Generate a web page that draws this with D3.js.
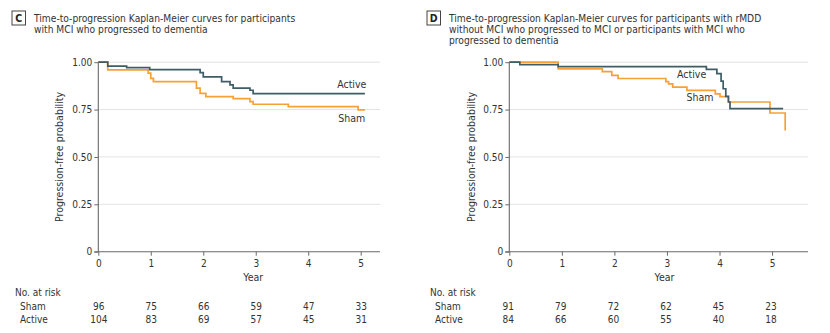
<!DOCTYPE html>
<html>
<head>
<meta charset="utf-8">
<script src="https://cdn.jsdelivr.net/npm/d3@7"></script>
<style>
  html, body { margin: 0; padding: 0; background: #fff; }
  svg { display: block; }
  text { font-family: "Liberation Sans Narrow", "Arial Narrow", "DejaVu Sans Condensed", sans-serif; fill: #333; }
</style>
</head>
<body>
<svg id="chart" width="830" height="333"></svg>
<script>
// Kaplan-Meier step points: [year, progression-free probability]
const activeC = [[0, 1], [0.18, 0.979], [0.54, 0.971], [0.98, 0.961], [1.94, 0.945], [2.0, 0.923],
  [2.35, 0.897], [2.51, 0.88], [2.57, 0.863], [2.89, 0.852], [2.95, 0.834], [5.08, 0.834]];
const shamC = [[0, 1], [0.18, 0.959], [0.95, 0.942], [1.0, 0.915], [1.05, 0.897], [1.87, 0.863],
  [1.94, 0.835], [2.05, 0.818], [2.57, 0.808], [2.89, 0.792], [2.95, 0.778], [3.62, 0.766],
  [4.95, 0.748], [5.08, 0.748]];
const activeD = [[0, 1], [0.2, 0.987], [0.93, 0.977], [3.75, 0.962], [3.95, 0.94], [4.03, 0.9],
  [4.07, 0.86], [4.12, 0.82], [4.17, 0.79], [4.2, 0.755], [5.21, 0.755]];
const shamD = [[0, 1], [0.93, 0.965], [1.77, 0.95], [1.95, 0.93], [2.07, 0.914], [2.98, 0.897],
  [3.03, 0.886], [3.11, 0.868], [3.38, 0.851], [3.92, 0.833], [4.01, 0.818], [4.17, 0.79],
  [4.96, 0.732], [5.25, 0.64]];

// Numbers at risk at years 0..5
const riskYears = [0, 1, 2, 3, 4, 5];
const riskShamC = [96, 75, 66, 59, 47, 33];
const riskActiveC = [104, 83, 69, 57, 45, 31];
const riskShamD = [91, 79, 72, 62, 45, 23];
const riskActiveD = [84, 66, 60, 55, 40, 18];

const yTicks = [0, 0.25, 0.5, 0.75, 1];
const yTickLabels = ["0", "0.25", "0.50", "0.75", "1.00"];
const xTicks = [0, 1, 2, 3, 4, 5];

const titleC = ["Time-to-progression Kaplan-Meier curves for participants",
  "with MCI who progressed to dementia"];
const titleD = ["Time-to-progression Kaplan-Meier curves for participants with rMDD",
  "without MCI who progressed to MCI or participants with MCI who",
  "progressed to dementia"];

const colActive = "#3e5d66";
const colSham = "#f6a136";

const svg = d3.select("#chart");

function panel(opts) {
  const g = svg.append("g");

  // panel letter box and title
  g.append("rect").attr("x", opts.boxX).attr("y", 11).attr("width", 13.5).attr("height", 14)
    .attr("fill", "#fff").attr("stroke", "#444").attr("stroke-width", 1);
  g.append("text").attr("x", opts.boxX + 6.75).attr("y", 22).attr("text-anchor", "middle")
    .attr("font-size", 10.5).attr("font-weight", "bold").style("fill", "#222").text(opts.letter);
  opts.title.forEach((t, i) => {
    g.append("text").attr("x", opts.boxX + 22).attr("y", 21.5 + i * 11)
      .attr("font-size", 10.2).style("fill", "#333").text(t);
  });

  const x = d3.scaleLinear().domain([0, opts.xMax]).range([opts.x0, opts.x1]);
  const y = d3.scaleLinear().domain([0, 1]).range([251.7, 62.2]);

  // gridlines
  g.append("g").selectAll("line").data(yTicks.filter(d => d > 0)).join("line")
    .attr("x1", opts.x0).attr("x2", opts.x1)
    .attr("y1", d => y(d)).attr("y2", d => y(d))
    .attr("stroke", "#e3e3e3").attr("stroke-width", 1);

  // axes
  const yAxis = g.append("g").attr("transform", `translate(${opts.x0},0)`)
    .call(d3.axisLeft(y).tickValues(yTicks).tickFormat((d, i) => yTickLabels[i]).tickSize(4).tickPadding(2));
  const xAxis = g.append("g").attr("transform", `translate(0,${y(0)})`)
    .call(d3.axisBottom(x).tickValues(xTicks).tickFormat(d3.format("d")).tickSize(4).tickPadding(4));
  [yAxis, xAxis].forEach(a => {
    a.select(".domain").attr("stroke", "#6a6a6a").attr("stroke-width", 1.1);
    a.selectAll(".tick line").attr("stroke", "#6a6a6a");
    a.selectAll(".tick text").attr("font-size", 10).style("fill", "#333")
      .attr("font-family", "\"Liberation Sans Narrow\", \"Arial Narrow\", sans-serif");
  });
  yAxis.select(".domain").attr("d", `M-4,${y(0)}H0V${y(1)}`);
  xAxis.select(".domain").attr("d", `M${opts.x0},0H${opts.x1}`);

  // axis titles
  g.append("text").attr("transform", `translate(${opts.yLabelX},${(y(0) + y(1)) / 2}) rotate(-90)`)
    .attr("text-anchor", "middle").attr("font-size", 10.5).text("Progression-free probability");
  g.append("text").attr("x", x(3) - 2.5).attr("y", 280.5).attr("text-anchor", "middle")
    .attr("font-size", 10.5).text("Year");

  // survival curves
  const line = d3.line().x(d => x(d[0])).y(d => y(d[1])).curve(d3.curveStepAfter);
  [[opts.sham, colSham], [opts.active, colActive]].forEach(([data, c]) => {
    g.append("path").datum(data).attr("d", line).attr("fill", "none")
      .attr("stroke", c).attr("stroke-width", 1.7).attr("stroke-linejoin", "miter");
  });

  // curve labels
  g.append("text").attr("x", x(opts.activeLab[0])).attr("y", y(opts.activeLab[1]))
    .attr("text-anchor", "middle").attr("font-size", 10.5).text("Active");
  g.append("text").attr("x", x(opts.shamLab[0])).attr("y", y(opts.shamLab[1]))
    .attr("text-anchor", "middle").attr("font-size", 10.5).text("Sham");

  // numbers at risk table
  g.append("text").attr("x", opts.boxX + 3).attr("y", 296).attr("font-size", 10).text("No. at risk");
  g.append("text").attr("x", opts.boxX + 8).attr("y", 309.5).attr("font-size", 10).text("Sham");
  g.append("text").attr("x", opts.boxX + 8).attr("y", 323).attr("font-size", 10).text("Active");
  [[opts.riskSham, 309.5], [opts.riskActive, 323]].forEach(([vals, yy]) => {
    g.append("g").selectAll("text").data(vals).join("text")
      .attr("x", (d, i) => x(riskYears[i]) + opts.riskShift)
      .attr("y", yy).attr("text-anchor", "middle").attr("font-size", 10).text(d => d);
  });
}

panel({
  boxX: 12, letter: "C", title: titleC,
  x0: 98.3, x1: 380, xMax: (380 - 98.3) / 52.48, yLabelX: 63,
  active: activeC, sham: shamC,
  activeLab: [4.83, 0.863], shamLab: [4.83, 0.686],
  riskSham: riskShamC, riskActive: riskActiveC, riskShift: 0.5
});
panel({
  boxX: 427, letter: "D", title: titleD,
  x0: 509.3, x1: 808, xMax: (808 - 509.3) / 52.55, yLabelX: 475,
  active: activeD, sham: shamD,
  activeLab: [3.47, 0.918], shamLab: [3.63, 0.795],
  riskSham: riskShamD, riskActive: riskActiveD, riskShift: -1
});
</script>
</body>
</html>
